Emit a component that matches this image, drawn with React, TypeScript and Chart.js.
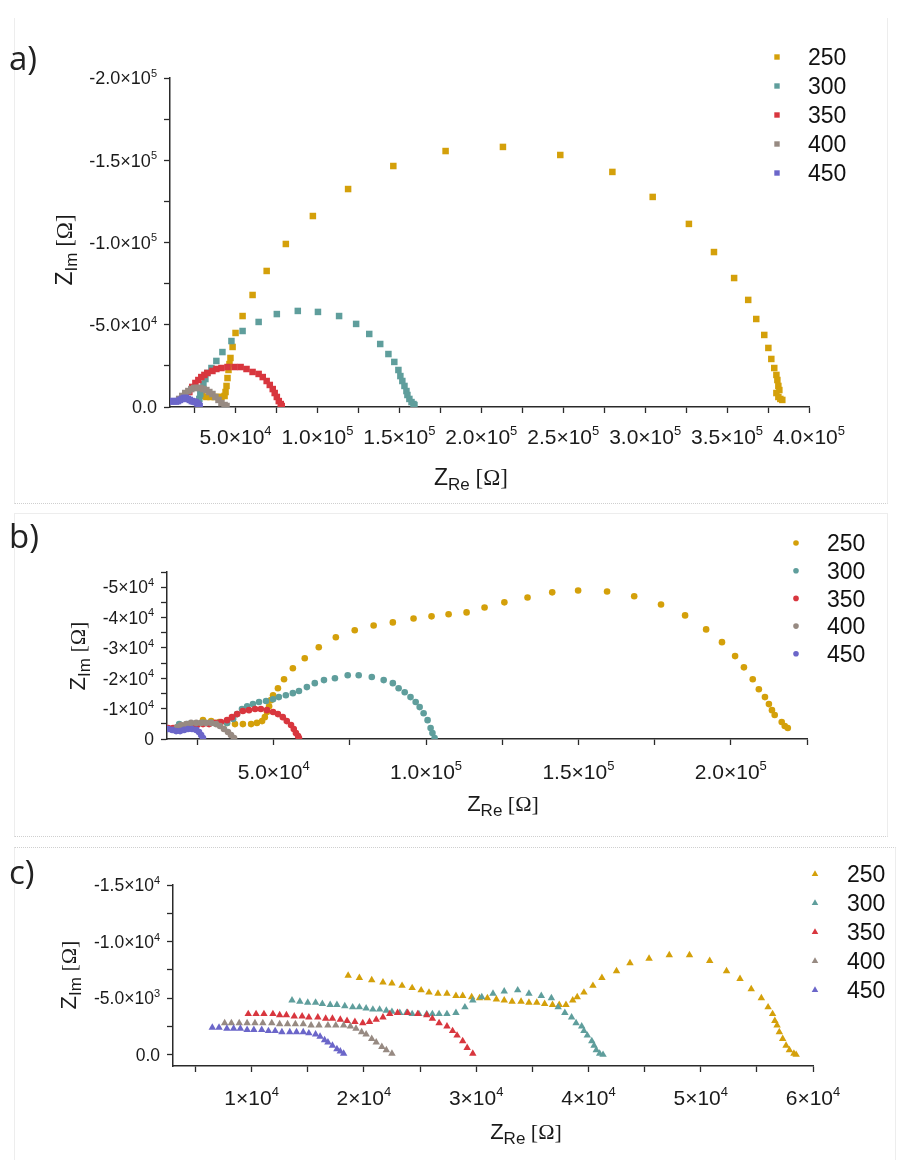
import React, { useEffect, useRef } from "react";
import { Chart, registerables } from "chart.js";

Chart.register(...registerables);

// ---------------- data ----------------
const SERIES_NAMES = ["250", "300", "350", "400", "450"];
const SERIES_COLORS = ["#d4a00a", "#5f9e9c", "#d8363e", "#978a82", "#6b66c9"];

// Panel a) — [Z_Re, Z_Im] in ohm
const A_250: number[][] = [
  [29.8e3, -6.7e3], [32.2e3, -6.1e3], [34.7e3, -6.1e3], [37.1e3, -6.1e3], [39.6e3, -6.1e3], [41.4e3, -6.1e3],
  [43.3e3, -6.7e3], [43.9e3, -9.1e3], [44.5e3, -12.8e3], [45.1e3, -17.6e3], [45.7e3, -22.5e3], [46.3e3, -26.1e3],
  [46.9e3, -29.8e3], [48.2e3, -36.5e3], [50.0e3, -45.0e3], [54.3e3, -55.3e3], [60.4e3, -68.1e3], [69.0e3, -82.7e3],
  [80.7e3, -99.1e3], [97.2e3, -116.1e3], [118.7e3, -132.5e3], [146.3e3, -146.5e3], [178.2e3, -155.6e3],
  [213.2e3, -158.1e3], [248.2e3, -153.2e3], [280.0e3, -142.9e3], [304.6e3, -127.7e3], [326.7e3, -111.3e3],
  [342.0e3, -94.2e3], [354.3e3, -78.4e3], [362.9e3, -65.1e3], [367.8e3, -53.5e3], [372.7e3, -43.8e3],
  [375.2e3, -35.9e3], [377.0e3, -29.2e3], [378.8e3, -23.7e3], [380.1e3, -19.5e3], [380.7e3, -16.4e3],
  [381.3e3, -12.8e3], [381.9e3, -10.3e3], [380.1e3, -8.5e3], [381.3e3, -6.1e3], [382.5e3, -4.9e3], [383.7e3, -4.3e3],
];
const A_300: number[][] = [
  [27.3e3, -3.0e3], [27.9e3, -4.9e3], [28.5e3, -7.9e3], [29.8e3, -10.9e3], [30.4e3, -14.0e3], [31.6e3, -17.0e3],
  [32.8e3, -20.7e3], [35.3e3, -23.7e3], [38.3e3, -28.0e3], [42.0e3, -33.4e3], [47.5e3, -40.1e3], [54.3e3, -46.2e3],
  [64.1e3, -51.7e3], [75.2e3, -56.5e3], [88.0e3, -58.4e3], [100.3e3, -57.8e3], [113.2e3, -55.3e3], [123.6e3, -50.5e3],
  [131.6e3, -44.4e3], [138.3e3, -38.3e3], [143.3e3, -32.2e3], [146.9e3, -27.4e3], [149.4e3, -22.5e3],
  [150.6e3, -18.8e3], [151.8e3, -15.8e3], [153.1e3, -12.8e3], [154.3e3, -9.7e3], [154.9e3, -7.3e3],
  [156.1e3, -4.9e3], [157.4e3, -3.0e3], [158.6e3, -1.8e3], [159.2e3, -1.2e3],
];
const A_350: number[][] = [
  [21.8e3, -9.1e3], [23.6e3, -12.2e3], [25.5e3, -14.6e3], [27.3e3, -16.4e3], [29.1e3, -18.2e3], [31.0e3, -19.5e3],
  [32.8e3, -20.7e3], [35.9e3, -21.9e3], [38.3e3, -23.1e3], [41.4e3, -23.7e3], [45.1e3, -24.3e3], [49.4e3, -24.3e3],
  [53.1e3, -24.3e3], [56.7e3, -23.1e3], [60.4e3, -21.3e3], [64.1e3, -20.1e3], [66.6e3, -18.2e3], [69.0e3, -15.8e3],
  [70.9e3, -13.4e3], [72.7e3, -10.9e3], [73.9e3, -8.5e3], [75.2e3, -6.1e3], [76.4e3, -3.6e3], [77.6e3, -1.8e3],
  [78.2e3, -0.6e3],
];
const A_400: number[][] = [
  [15.6e3, -4.9e3], [17.5e3, -6.7e3], [19.3e3, -8.5e3], [21.2e3, -9.7e3], [23.0e3, -10.9e3], [24.8e3, -11.6e3],
  [26.7e3, -11.6e3], [28.5e3, -11.6e3], [30.4e3, -10.9e3], [32.2e3, -10.3e3], [34.0e3, -9.1e3], [35.9e3, -7.9e3],
  [37.7e3, -6.1e3], [39.6e3, -4.3e3], [41.4e3, -2.4e3], [43.3e3, -1.2e3], [44.5e3, -0.6e3],
];
const A_450: number[][] = [
  [10.1e3, -3.3e3], [11.3e3, -3.6e3], [12.5e3, -3.6e3], [13.7e3, -3.3e3], [14.9e3, -3.6e3], [16.1e3, -4.3e3],
  [17.3e3, -4.9e3], [18.5e3, -5.5e3], [19.7e3, -5.5e3], [20.9e3, -4.9e3], [22.1e3, -4.3e3], [23.3e3, -3.6e3],
  [24.5e3, -3.3e3], [25.7e3, -3.0e3], [26.7e3, -2.2e3], [27.5e3, -1.3e3], [28.1e3, -0.6e3],
];

// Panel b)
const B_250: number[][] = [
  [26.8e3, -6.2e3], [29.5e3, -5.9e3], [32.1e3, -5.6e3], [34.7e3, -5.3e3], [37.3e3, -4.9e3], [39.9e3, -4.9e3],
  [42.6e3, -4.9e3], [44.5e3, -5.3e3], [46.2e3, -5.9e3], [47.1e3, -7.2e3], [47.8e3, -8.9e3], [48.5e3, -10.8e3],
  [49.1e3, -12.8e3], [49.8e3, -14.4e3], [51.4e3, -16.7e3], [53.4e3, -19.7e3], [56.3e3, -23.3e3], [60.2e3, -26.6e3],
  [64.8e3, -30.2e3], [70.4e3, -33.5e3], [76.6e3, -35.8e3], [82.8e3, -37.4e3], [89.1e3, -38.4e3], [95.9e3, -39.7e3],
  [101.8e3, -40.4e3], [107.4e3, -41.1e3], [113.3e3, -41.7e3], [119.2e3, -43.3e3], [125.7e3, -45.0e3],
  [133.3e3, -46.6e3], [141.4e3, -48.3e3], [149.9e3, -48.9e3], [159.4e3, -48.6e3], [168.3e3, -47.0e3],
  [177.1e3, -44.3e3], [185.0e3, -40.7e3], [191.9e3, -36.1e3], [197.1e3, -31.9e3], [201.4e3, -27.3e3],
  [204.3e3, -23.6e3], [207.2e3, -19.7e3], [209.2e3, -16.4e3], [211.2e3, -13.8e3], [212.5e3, -11.5e3],
  [213.5e3, -9.5e3], [214.4e3, -7.9e3], [216.7e3, -5.6e3], [217.7e3, -4.3e3], [218.7e3, -3.6e3],
];
const B_300: number[][] = [
  [19.0e3, -4.9e3], [21.6e3, -4.9e3], [24.2e3, -4.9e3], [26.8e3, -5.3e3], [29.5e3, -5.3e3], [32.1e3, -5.3e3],
  [34.7e3, -5.3e3], [36.7e3, -6.6e3], [38.0e3, -8.2e3], [39.6e3, -9.9e3], [41.3e3, -10.8e3], [43.2e3, -11.5e3],
  [45.2e3, -12.2e3], [47.5e3, -12.5e3], [49.8e3, -13.1e3], [51.7e3, -13.8e3], [54.0e3, -14.4e3], [56.3e3, -15.1e3],
  [58.3e3, -15.8e3], [60.9e3, -17.1e3], [63.5e3, -18.4e3], [66.5e3, -19.4e3], [70.1e3, -20.0e3], [74.3e3, -21.0e3],
  [77.9e3, -21.0e3], [82.2e3, -20.4e3], [86.1e3, -19.4e3], [89.1e3, -18.4e3], [91.0e3, -16.7e3], [93.0e3, -15.4e3],
  [94.9e3, -13.8e3], [96.6e3, -12.2e3], [97.9e3, -10.5e3], [99.2e3, -8.5e3], [100.5e3, -6.2e3], [101.5e3, -3.6e3],
  [102.1e3, -2.0e3], [102.8e3, -0.3e3],
];
const B_350: number[][] = [
  [15.4e3, -3.6e3], [17.0e3, -3.6e3], [19.0e3, -3.9e3], [21.0e3, -3.9e3], [22.9e3, -4.3e3], [24.9e3, -4.6e3],
  [26.8e3, -4.9e3], [28.8e3, -4.9e3], [30.8e3, -5.3e3], [32.7e3, -5.6e3], [34.7e3, -6.2e3], [36.3e3, -7.2e3],
  [38.0e3, -8.2e3], [39.9e3, -9.2e3], [41.9e3, -9.5e3], [43.9e3, -9.9e3], [45.8e3, -9.9e3], [47.8e3, -9.5e3],
  [49.8e3, -8.9e3], [51.4e3, -8.2e3], [53.0e3, -7.2e3], [54.3e3, -5.9e3], [55.7e3, -4.6e3], [56.6e3, -3.3e3],
  [57.3e3, -2.0e3], [58.0e3, -1.0e3], [58.3e3, -0.3e3],
];
const B_400: number[][] = [
  [18.3e3, -3.9e3], [19.6e3, -4.6e3], [21.3e3, -4.9e3], [22.9e3, -5.3e3], [24.6e3, -5.3e3], [26.2e3, -5.3e3],
  [27.8e3, -5.3e3], [29.5e3, -5.3e3], [31.1e3, -4.9e3], [32.4e3, -4.3e3], [33.7e3, -3.3e3], [35.0e3, -2.3e3],
  [36.0e3, -1.3e3], [37.0e3, -0.3e3],
];
const B_450: number[][] = [
  [15.4e3, -3.3e3], [16.7e3, -3.0e3], [18.0e3, -2.6e3], [19.3e3, -2.6e3], [20.6e3, -3.0e3], [21.9e3, -3.3e3],
  [23.2e3, -3.3e3], [24.6e3, -3.0e3], [25.5e3, -2.3e3], [26.2e3, -1.3e3], [26.8e3, -0.3e3],
];

// Panel c)
const C_250: number[][] = [
  [18.6e3, -7.0e3], [19.6e3, -6.8e3], [20.7e3, -6.6e3], [21.7e3, -6.4e3], [22.5e3, -6.3e3], [23.4e3, -6.1e3],
  [24.3e3, -5.9e3], [25.1e3, -5.7e3], [25.8e3, -5.5e3], [26.6e3, -5.4e3], [27.4e3, -5.4e3], [28.2e3, -5.2e3],
  [28.8e3, -5.2e3], [29.6e3, -5.1e3], [30.3e3, -5.0e3], [31.0e3, -5.0e3], [31.8e3, -4.9e3], [32.5e3, -4.8e3],
  [33.2e3, -4.7e3], [34.0e3, -4.7e3], [34.7e3, -4.6e3], [35.4e3, -4.6e3], [36.1e3, -4.5e3], [36.8e3, -4.4e3],
  [37.4e3, -4.4e3], [38.0e3, -4.4e3], [38.6e3, -4.8e3], [39.0e3, -5.1e3], [39.6e3, -5.5e3], [40.4e3, -6.1e3],
  [41.2e3, -6.8e3], [42.5e3, -7.4e3], [43.7e3, -8.1e3], [45.4e3, -8.5e3], [47.2e3, -8.8e3], [49.0e3, -8.8e3],
  [50.8e3, -8.3e3], [52.3e3, -7.4e3], [53.5e3, -6.7e3], [54.5e3, -5.8e3], [55.4e3, -5.0e3], [56.0e3, -4.2e3],
  [56.4e3, -3.6e3], [56.6e3, -3.0e3], [56.8e3, -2.6e3], [57.0e3, -2.0e3], [57.3e3, -1.4e3], [57.6e3, -0.8e3],
  [57.9e3, -0.4e3], [58.3e3, -0.1e3], [58.5e3, 0],
];
const C_300: number[][] = [
  [13.6e3, -4.8e3], [14.3e3, -4.7e3], [15.0e3, -4.6e3], [15.7e3, -4.6e3], [16.3e3, -4.5e3], [17.0e3, -4.4e3],
  [17.6e3, -4.4e3], [18.3e3, -4.3e3], [19.0e3, -4.2e3], [19.6e3, -4.2e3], [20.2e3, -4.1e3], [20.8e3, -4.0e3],
  [21.4e3, -4.0e3], [22.0e3, -3.9e3], [22.5e3, -3.8e3], [23.2e3, -3.7e3], [23.8e3, -3.7e3], [24.3e3, -3.6e3],
  [24.9e3, -3.6e3], [25.6e3, -3.6e3], [26.1e3, -3.6e3], [26.7e3, -3.6e3], [27.4e3, -3.6e3], [28.2e3, -3.7e3],
  [29.0e3, -4.2e3], [29.7e3, -4.8e3], [30.5e3, -5.1e3], [31.5e3, -5.4e3], [32.5e3, -5.6e3], [33.7e3, -5.7e3],
  [34.7e3, -5.4e3], [35.8e3, -5.2e3], [36.7e3, -5.0e3], [37.3e3, -4.2e3], [37.9e3, -3.7e3], [38.5e3, -3.3e3],
  [38.9e3, -2.8e3], [39.4e3, -2.5e3], [39.6e3, -2.1e3], [39.9e3, -1.7e3], [40.3e3, -1.2e3], [40.5e3, -0.8e3],
  [40.7e3, -0.4e3], [41.0e3, -0.1e3], [41.3e3, 0],
];
const C_350: number[][] = [
  [9.7e3, -3.6e3], [10.4e3, -3.6e3], [11.1e3, -3.6e3], [11.9e3, -3.6e3], [12.5e3, -3.5e3], [13.1e3, -3.5e3],
  [13.8e3, -3.4e3], [14.5e3, -3.4e3], [15.1e3, -3.3e3], [15.9e3, -3.3e3], [16.6e3, -3.2e3], [17.2e3, -3.2e3],
  [17.9e3, -3.1e3], [18.5e3, -3.0e3], [19.2e3, -2.9e3], [19.9e3, -2.8e3], [20.5e3, -2.9e3], [21.1e3, -3.1e3],
  [21.7e3, -3.3e3], [22.3e3, -3.6e3], [23.0e3, -3.7e3], [23.9e3, -3.7e3], [24.8e3, -3.6e3], [25.6e3, -3.5e3],
  [26.1e3, -3.2e3], [26.7e3, -2.8e3], [27.4e3, -2.5e3], [27.9e3, -2.1e3], [28.3e3, -1.7e3], [28.8e3, -1.2e3],
  [29.2e3, -0.6e3], [29.7e3, -0.1e3],
];
const C_400: number[][] = [
  [7.6e3, -2.8e3], [8.2e3, -2.8e3], [8.9e3, -2.8e3], [9.6e3, -2.8e3], [10.3e3, -2.8e3], [11.0e3, -2.8e3],
  [11.8e3, -2.8e3], [12.5e3, -2.7e3], [13.2e3, -2.7e3], [13.9e3, -2.7e3], [14.6e3, -2.7e3], [15.3e3, -2.6e3],
  [16.0e3, -2.6e3], [16.8e3, -2.6e3], [17.5e3, -2.6e3], [18.2e3, -2.6e3], [18.8e3, -2.5e3], [19.3e3, -2.3e3],
  [19.8e3, -2.0e3], [20.2e3, -1.8e3], [20.7e3, -1.4e3], [21.1e3, -1.1e3], [21.6e3, -0.7e3], [22.0e3, -0.4e3],
  [22.5e3, -0.1e3],
];
const C_450: number[][] = [
  [6.5e3, -2.4e3], [7.1e3, -2.4e3], [7.8e3, -2.3e3], [8.4e3, -2.3e3], [9.0e3, -2.3e3], [9.6e3, -2.2e3],
  [10.2e3, -2.2e3], [10.9e3, -2.2e3], [11.5e3, -2.1e3], [12.1e3, -2.1e3], [12.7e3, -2.0e3], [13.4e3, -2.0e3],
  [14.0e3, -2.0e3], [14.6e3, -2.0e3], [15.1e3, -1.9e3], [15.7e3, -1.8e3], [16.1e3, -1.6e3], [16.5e3, -1.3e3],
  [16.8e3, -1.1e3], [17.2e3, -0.8e3], [17.6e3, -0.5e3], [17.9e3, -0.3e3], [18.2e3, -0.1e3],
];

// ---------------- ticks ----------------
const A_X_MAJOR = [5e4, 1e5, 1.5e5, 2e5, 2.5e5, 3e5, 3.5e5, 4e5];
const A_X_LABELS = ["5.0×10^4", "1.0×10^5", "1.5×10^5", "2.0×10^5", "2.5×10^5", "3.0×10^5", "3.5×10^5", "4.0×10^5"];
const A_X_MINOR = [2.5e4, 7.5e4, 1.25e5, 1.75e5, 2.25e5, 2.75e5, 3.25e5, 3.75e5];
const A_Y_MAJOR = [-2e5, -1.5e5, -1e5, -5e4, 0];
const A_Y_LABELS = ["-2.0×10^5", "-1.5×10^5", "-1.0×10^5", "-5.0×10^4", "0.0"];
const A_Y_MINOR = [-1.75e5, -1.25e5, -7.5e4, -2.5e4];

const B_X_MAJOR = [5e4, 1e5, 1.5e5, 2e5];
const B_X_LABELS = ["5.0×10^4", "1.0×10^5", "1.5×10^5", "2.0×10^5"];
const B_X_MINOR = [2.5e4, 7.5e4, 1.25e5, 1.75e5, 2.25e5];
const B_Y_MAJOR = [-5e4, -4e4, -3e4, -2e4, -1e4, 0];
const B_Y_LABELS = ["-5×10^4", "-4×10^4", "-3×10^4", "-2×10^4", "-1×10^4", "0"];
const B_Y_MINOR = [-5.5e4, -4.5e4, -3.5e4, -2.5e4, -1.5e4, -5e3];

const C_X_MAJOR = [1e4, 2e4, 3e4, 4e4, 5e4, 6e4];
const C_X_LABELS = ["1×10^4", "2×10^4", "3×10^4", "4×10^4", "5×10^4", "6×10^4"];
const C_X_MINOR = [5e3, 1.5e4, 2.5e4, 3.5e4, 4.5e4, 5.5e4];
const C_Y_MAJOR = [-1.5e4, -1e4, -5e3, 0];
const C_Y_LABELS = ["-1.5×10^4", "-1.0×10^4", "-5.0×10^3", "0.0"];
const C_Y_MINOR = [-1.25e4, -7.5e3, -2.5e3];

// ---------------- styling ----------------
const SANS = '"Liberation Sans", Arial, sans-serif';
const SERIF = '"Liberation Serif", "Times New Roman", serif';
const LETTER_FONT = '"Open Sans", sans-serif';
const AXIS = "#2a2a2a";
const W = 897;

type Shape = "rect" | "circle" | "triangle";

interface PanelCfg {
  letter: string;
  letterY: number;
  top: number;
  height: number;
  area: { left: number; right: number; top: number; bottom: number };
  xRange: [number, number];
  yRange: [number, number];
  xMajor: number[];
  xLabels: string[];
  xMinor: number[];
  yMajor: number[];
  yLabels: string[];
  yMinor: number[];
  series: number[][][];
  shape: Shape;
  radius: number;
  legend: { mx: number; tx: number; y0: number; dy: number; size: number; mr: number };
  xTitle: { x: number; y: number };
  yTitle: { x: number; y: number };
  titleSize: number;
  xLabelDy: number;
  xFont: number;
  yFont: number;
}

const PANELS: PanelCfg[] = [
  {
    letter: "a)", letterY: 70, top: 0, height: 505,
    area: { left: 170, right: 809, top: 78, bottom: 407 },
    xRange: [1e4, 4e5], yRange: [-2e5, 0],
    xMajor: A_X_MAJOR, xLabels: A_X_LABELS, xMinor: A_X_MINOR,
    yMajor: A_Y_MAJOR, yLabels: A_Y_LABELS, yMinor: A_Y_MINOR,
    series: [A_250, A_300, A_350, A_400, A_450],
    shape: "rect", radius: 4.6,
    legend: { mx: 777, tx: 808, y0: 57, dy: 29, size: 23, mr: 3.6 },
    xTitle: { x: 471, y: 485 }, yTitle: { x: 72, y: 250 }, titleSize: 23,
    xLabelDy: 37, xFont: 21, yFont: 18,
  },
  {
    letter: "b)", letterY: 548, top: 505, height: 330,
    area: { left: 167, right: 807, top: 572, bottom: 739 },
    xRange: [1.5e4, 2.25e5], yRange: [-5.5e4, 0],
    xMajor: B_X_MAJOR, xLabels: B_X_LABELS, xMinor: B_X_MINOR,
    yMajor: B_Y_MAJOR, yLabels: B_Y_LABELS, yMinor: B_Y_MINOR,
    series: [B_250, B_300, B_350, B_400, B_450],
    shape: "circle", radius: 3.3,
    legend: { mx: 796, tx: 827, y0: 543, dy: 27.7, size: 23, mr: 2.8 },
    xTitle: { x: 503, y: 811 }, yTitle: { x: 85, y: 656 }, titleSize: 22,
    xLabelDy: 40, xFont: 21, yFont: 17.5,
  },
  {
    letter: "c)", letterY: 884, top: 840, height: 320,
    area: { left: 173, right: 813, top: 885, bottom: 1066 },
    xRange: [3e3, 6e4], yRange: [-1.5e4, 1e3],
    xMajor: C_X_MAJOR, xLabels: C_X_LABELS, xMinor: C_X_MINOR,
    yMajor: C_Y_MAJOR, yLabels: C_Y_LABELS, yMinor: C_Y_MINOR,
    series: [C_250, C_300, C_350, C_400, C_450],
    shape: "triangle", radius: 4.3,
    legend: { mx: 815, tx: 847, y0: 874, dy: 29, size: 23, mr: 3.8 },
    xTitle: { x: 526, y: 1139 }, yTitle: { x: 76, y: 975 }, titleSize: 22,
    xLabelDy: 39, xFont: 21, yFont: 17.5,
  },
];

// ---------------- drawing helpers ----------------
interface Part { text: string; size: number; family: string; dy: number }

function richWidth(ctx: CanvasRenderingContext2D, parts: Part[]): number[] {
  return parts.map((p) => {
    ctx.font = `${p.size}px ${p.family}`;
    return ctx.measureText(p.text).width;
  });
}

function drawRich(ctx: CanvasRenderingContext2D, parts: Part[], x: number, y: number, align: "left" | "center" | "right") {
  const widths = richWidth(ctx, parts);
  const total = widths.reduce((a, b) => a + b, 0);
  let cx = align === "left" ? x : align === "center" ? x - total / 2 : x - total;
  ctx.textAlign = "left";
  ctx.textBaseline = "alphabetic";
  parts.forEach((p, i) => {
    ctx.font = `${p.size}px ${p.family}`;
    ctx.fillText(p.text, cx, y + p.dy);
    cx += widths[i];
  });
}

function labelParts(label: string, size: number): Part[] {
  const [base, sup] = label.split("^");
  const parts: Part[] = [{ text: base, size, family: SANS, dy: 0 }];
  if (sup) parts.push({ text: sup, size: Math.round(size * 0.62), family: SANS, dy: -size * 0.42 });
  return parts;
}

function drawMarker(ctx: CanvasRenderingContext2D, shape: Shape, x: number, y: number, r: number) {
  ctx.beginPath();
  if (shape === "rect") {
    ctx.rect(x - r * 0.75, y - r * 0.75, r * 1.5, r * 1.5);
  } else if (shape === "circle") {
    ctx.arc(x, y, r, 0, Math.PI * 2);
  } else {
    ctx.moveTo(x, y - r);
    ctx.lineTo(x + r * 0.866, y + r * 0.5);
    ctx.lineTo(x - r * 0.866, y + r * 0.5);
    ctx.closePath();
  }
  ctx.fill();
}

function makeTextPlugin(cfg: PanelCfg) {
  return {
    id: "panelText" + cfg.letter,
    afterDraw(chart: any) {
      const ctx: CanvasRenderingContext2D = chart.ctx;
      const off = cfg.top;
      const xs = chart.scales.x;
      const ys = chart.scales.y;
      const ts = cfg.titleSize;
      ctx.save();
      ctx.fillStyle = "#1a1a1a";

      // tick labels
      cfg.xMajor.forEach((v, i) => {
        const px = xs.getPixelForValue(v);
        drawRich(ctx, labelParts(cfg.xLabels[i], cfg.xFont), px, chart.chartArea.bottom + cfg.xLabelDy, "center");
      });
      cfg.yMajor.forEach((v, i) => {
        const py = ys.getPixelForValue(v);
        drawRich(ctx, labelParts(cfg.yLabels[i], cfg.yFont), chart.chartArea.left - 13, py + cfg.yFont * 0.36, "right");
      });

      // axis titles
      drawRich(
        ctx,
        [
          { text: "Z", size: ts, family: SANS, dy: 0 },
          { text: "Re", size: Math.round(ts * 0.75), family: SANS, dy: 5 },
          { text: " [Ω]", size: ts, family: SERIF, dy: 0 },
        ],
        cfg.xTitle.x,
        cfg.xTitle.y - off,
        "center"
      );
      ctx.save();
      ctx.translate(cfg.yTitle.x, cfg.yTitle.y - off);
      ctx.rotate(-Math.PI / 2);
      drawRich(
        ctx,
        [
          { text: "Z", size: ts, family: SANS, dy: 0 },
          { text: "Im", size: Math.round(ts * 0.75), family: SANS, dy: 5 },
          { text: " [Ω]", size: ts, family: SERIF, dy: 0 },
        ],
        0,
        0,
        "center"
      );
      ctx.restore();

      // legend
      const lg = cfg.legend;
      SERIES_NAMES.forEach((name, i) => {
        const y = lg.y0 + i * lg.dy - off;
        ctx.fillStyle = SERIES_COLORS[i];
        drawMarker(ctx, cfg.shape, lg.mx, y, lg.mr);
        ctx.fillStyle = "#111";
        ctx.font = `${lg.size}px ${SANS}`;
        ctx.textAlign = "left";
        ctx.textBaseline = "alphabetic";
        ctx.fillText(name, lg.tx, y + lg.size * 0.36);
      });

      // panel letter
      ctx.fillStyle = "#222";
      ctx.font = `33px ${LETTER_FONT}`;
      ctx.textAlign = "left";
      ctx.textBaseline = "alphabetic";
      ctx.fillText(cfg.letter, 9, cfg.letterY - off);
      ctx.restore();
    },
  };
}

function Panel({ cfg }: { cfg: PanelCfg }) {
  const ref = useRef<HTMLCanvasElement>(null);
  useEffect(() => {
    const canvas = ref.current;
    if (!canvas) return;
    const tickList = (major: number[], minor: number[]) =>
      [...major, ...minor].sort((a, b) => a - b).map((value) => ({ value }));
    const gridOpts = {
      drawOnChartArea: false,
      drawTicks: true,
      tickLength: 6,
      tickColor: AXIS,
      tickWidth: 1.3,
    };
    const chart = new Chart(canvas, {
      type: "scatter",
      data: {
        datasets: cfg.series.map((pts, i) => ({
          label: SERIES_NAMES[i],
          data: pts.map(([x, y]) => ({ x, y })),
          pointStyle: cfg.shape,
          pointRadius: cfg.radius,
          pointHoverRadius: cfg.radius,
          backgroundColor: SERIES_COLORS[i],
          borderColor: SERIES_COLORS[i],
          borderWidth: 0,
          showLine: false,
          order: SERIES_NAMES.length - 1 - i,
        })),
      },
      options: {
        responsive: false,
        animation: false,
        devicePixelRatio: 1,
        events: [],
        layout: {
          padding: {
            left: 0,
            top: cfg.area.top - cfg.top,
            right: W - cfg.area.right,
            bottom: 0,
          },
        },
        plugins: {
          legend: { display: false },
          tooltip: { enabled: false },
          title: { display: false },
        },
        scales: {
          x: {
            type: "linear",
            min: cfg.xRange[0],
            max: cfg.xRange[1],
            ticks: { display: false },
            grid: gridOpts,
            border: { display: true, color: AXIS, width: 1.5 },
            afterBuildTicks: (s: any) => {
              s.ticks = tickList(cfg.xMajor, cfg.xMinor);
            },
            afterFit: (s: any) => {
              s.height = cfg.top + cfg.height - cfg.area.bottom;
            },
          },
          y: {
            type: "linear",
            reverse: true,
            min: cfg.yRange[0],
            max: cfg.yRange[1],
            ticks: { display: false },
            grid: gridOpts,
            border: { display: true, color: AXIS, width: 1.5 },
            afterBuildTicks: (s: any) => {
              s.ticks = tickList(cfg.yMajor, cfg.yMinor);
            },
            afterFit: (s: any) => {
              s.width = cfg.area.left;
            },
          },
        },
      } as any,
      plugins: [makeTextPlugin(cfg)],
    });
    return () => chart.destroy();
  }, [cfg]);
  return (
    <canvas
      ref={ref}
      width={W}
      height={cfg.height}
      style={{ position: "absolute", left: 0, top: cfg.top, width: W, height: cfg.height, display: "block" }}
    />
  );
}

export default function App() {
  return (
    <div style={{ position: "absolute", left: 0, top: 0, width: W, height: 1160, background: "#fff", overflow: "hidden" }}>
      {/* faint panel frames */}
      <div style={{ position: "absolute", left: 14, top: 18, width: 872, height: 485, borderLeft: "1px solid #ededed", borderRight: "1px solid #ededed", borderBottom: "1px dotted #cfcfcf" }} />
      <div style={{ position: "absolute", left: 14, top: 513, width: 872, height: 322, borderTop: "1px solid #ededed", borderLeft: "1px solid #ededed", borderRight: "1px solid #ededed", borderBottom: "1px dotted #cfcfcf" }} />
      <div style={{ position: "absolute", left: 14, top: 847, width: 880, height: 320, borderTop: "1px dotted #cfcfcf", borderLeft: "1px solid #ededed", borderRight: "1px solid #ededed" }} />
      {PANELS.map((cfg) => (
        <Panel key={cfg.letter} cfg={cfg} />
      ))}
    </div>
  );
}
